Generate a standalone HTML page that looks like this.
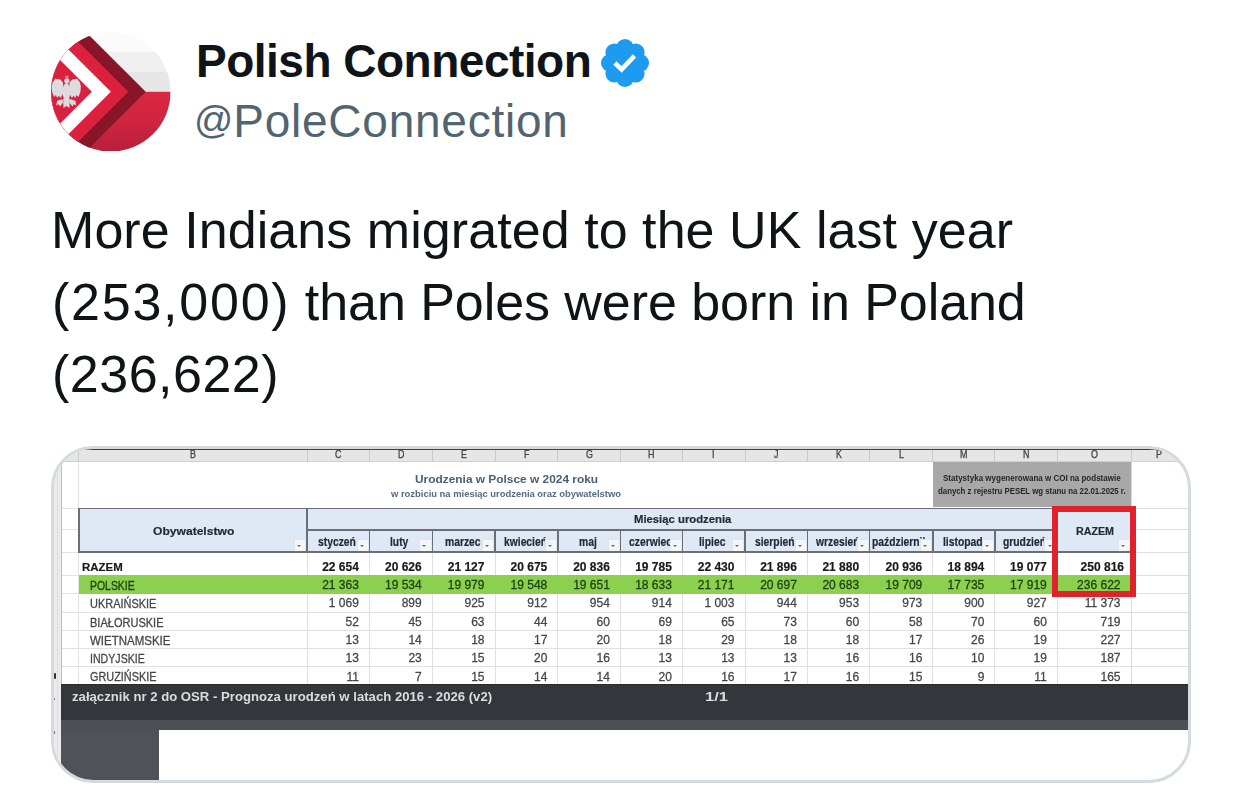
<!DOCTYPE html>
<html><head><meta charset="utf-8">
<style>
html,body{margin:0;padding:0;background:#fff;}
body{width:1242px;height:791px;position:relative;overflow:hidden;font-family:"Liberation Sans",sans-serif;}
.abs{position:absolute;}
#avatar{left:51.1px;top:31.7px;width:119.6px;height:119.6px;filter:blur(0.35px);}
#name{left:196px;top:35px;font-size:46px;font-weight:bold;color:#0f1419;white-space:nowrap;line-height:52px;letter-spacing:-0.5px;}
#badge{left:601px;top:39px;width:48px;height:48px;}
#handle{left:194px;top:95px;font-size:46px;letter-spacing:0.75px;color:#536471;white-space:nowrap;line-height:52px;}
#tweet{left:52px;top:194px;font-size:52px;color:#0f1419;line-height:72px;white-space:nowrap;}
#card{left:51px;top:446px;width:1134px;height:331px;border:3px solid #d3dbdf;border-radius:42px;overflow:hidden;background:#fff;}
#sheet{position:absolute;left:0;top:0;width:1134px;height:331px;filter:blur(0.55px);}
.s{position:absolute;}
.t{position:absolute;white-space:nowrap;line-height:1;}
.mh{text-align:right;color:#1e2730;font-weight:bold;overflow:hidden;}
</style></head>
<body>
<svg id="avatar" class="abs" viewBox="0 0 120 120">
  <defs><clipPath id="cc"><circle cx="60" cy="60" r="60"/></clipPath>
  <linearGradient id="gr" x1="0" y1="0" x2="0" y2="1"><stop offset="0" stop-color="#da2843"/><stop offset="0.5" stop-color="#cf243f"/><stop offset="1" stop-color="#b71f3a"/></linearGradient>
  </defs>
  <g clip-path="url(#cc)">
    <rect x="0" y="0" width="120" height="20" fill="#fbfbfb"/>
    <rect x="0" y="19.8" width="120" height="20.6" fill="#f0f0f0"/>
    <rect x="0" y="40.2" width="120" height="20" fill="#e6e6e6"/>
    <rect x="0" y="60" width="120" height="61" fill="url(#gr)"/>
    <polygon points="95,60 -105,-140 -300,-140 -300,260 -105,260" fill="#881628"/>
    <polygon points="77.5,60 -122.5,-140 -300,-140 -300,260 -122.5,260" fill="#dc213f"/>
    <polygon points="60,60 -140,-140 -300,-140 -300,260 -140,260" fill="#ffffff"/>
    <polygon points="41,60 -159,-140 -300,-140 -300,260 -159,260" fill="#d9203e"/>
    <g fill="#dcdbde">
      <path d="M12.1,50.8 L9.4,47.6 L4.4,47.0 L1.7,50.3 L0.6,54.8 L1.1,60.3 L3.1,65.3 L4.9,63.2 L6.3,66.2 L7.9,64.0 L9.7,66.2 L12.1,61.8 Z"/>
      <path d="M18.5,50.8 L21.2,47.6 L26.2,47.0 L28.9,50.3 L30.0,54.8 L29.5,60.3 L27.5,65.3 L25.7,63.2 L24.3,66.2 L22.7,64.0 L20.9,66.2 L18.5,61.8 Z"/>
      <ellipse cx="15.5" cy="59.8" rx="4" ry="8.6"/>
      <circle cx="15.9" cy="49" r="2.6"/>
      <path d="M12.1,66.8 L18.9,66.8 L18.5,76.3 L15.5,74.2 L12.5,76.3 Z"/>
      <path d="M11.7,67.3 L6.1,69.0 L5.3,73.8 L7.7,72.6 L9.1,74.8 L12.1,70.8 Z"/>
      <path d="M18.9,67.3 L24.5,69.0 L25.3,73.8 L22.9,72.6 L21.5,74.8 L18.5,70.8 Z"/>
    </g>
    <path d="M14.1,46.0 L14.5,43.4 L15.9,44.4 L17.3,43.4 L17.7,46.0 Z" fill="#e3906e"/>
  </g>
</svg>
<div id="name" class="abs">Polish Connection</div>
<svg id="badge" class="abs" viewBox="-24 -24 48 48">
  <g fill="#1d9bf0"><circle r="17.5"/><circle cx="0.00" cy="-15.00" r="9"/><circle cx="10.61" cy="-10.61" r="9"/><circle cx="15.00" cy="-0.00" r="9"/><circle cx="10.61" cy="10.61" r="9"/><circle cx="0.00" cy="15.00" r="9"/><circle cx="-10.61" cy="10.61" r="9"/><circle cx="-15.00" cy="0.00" r="9"/><circle cx="-10.61" cy="-10.61" r="9"/></g>
  <polyline points="-10.1,0 -3.4,6.4 9.5,-7.2" fill="none" stroke="#fff" stroke-width="4.6" stroke-linejoin="miter"/>
</svg>
<div id="handle" class="abs"><span style="font-size:38.7px;vertical-align:4.3px;line-height:1px;letter-spacing:0">@</span>PoleConnection</div>
<div id="tweet" class="abs"><div style="letter-spacing:0.06px;margin-left:-1px">More Indians migrated to the UK last year</div><div><span style="letter-spacing:1.76px">(253,000)</span><span style="letter-spacing:-0.06px"> than Poles were born in Poland</span></div><div style="letter-spacing:0.5px">(236,622)</div></div>
<div id="card" class="abs"><div id="sheet">
<!-- SPREADSHEET -->
<div class="s" style="left:0.00px;top:0.00px;width:1136.00px;height:13.00px;background:#e6e6e6"></div>
<div class="s" style="left:0.00px;top:0.00px;width:1136.00px;height:1.40px;background:#404042"></div>
<div class="s" style="left:0.00px;top:12.00px;width:1136.00px;height:1.20px;background:#d0d0d0"></div>
<div class="s" style="left:0.00px;top:1.00px;width:7.00px;height:331.00px;background:#ebebed"></div>
<div class="s" style="left:2.50px;top:1.00px;width:0.80px;height:331.00px;background:#dedee0"></div>
<div class="s" style="left:6.60px;top:1.00px;width:1.00px;height:331.00px;background:#bdbdc1"></div>
<div class="s" style="left:24.10px;top:1.40px;width:1.10px;height:10.60px;background:#cacaca"></div>
<div class="s" style="left:252.50px;top:1.40px;width:1.10px;height:10.60px;background:#cacaca"></div>
<div class="s" style="left:314.90px;top:1.40px;width:1.10px;height:10.60px;background:#cacaca"></div>
<div class="s" style="left:377.70px;top:1.40px;width:1.10px;height:10.60px;background:#cacaca"></div>
<div class="s" style="left:440.50px;top:1.40px;width:1.10px;height:10.60px;background:#cacaca"></div>
<div class="s" style="left:503.30px;top:1.40px;width:1.10px;height:10.60px;background:#cacaca"></div>
<div class="s" style="left:565.90px;top:1.40px;width:1.10px;height:10.60px;background:#cacaca"></div>
<div class="s" style="left:627.90px;top:1.40px;width:1.10px;height:10.60px;background:#cacaca"></div>
<div class="s" style="left:690.50px;top:1.40px;width:1.10px;height:10.60px;background:#cacaca"></div>
<div class="s" style="left:752.90px;top:1.40px;width:1.10px;height:10.60px;background:#cacaca"></div>
<div class="s" style="left:815.10px;top:1.40px;width:1.10px;height:10.60px;background:#cacaca"></div>
<div class="s" style="left:878.30px;top:1.40px;width:1.10px;height:10.60px;background:#cacaca"></div>
<div class="s" style="left:940.30px;top:1.40px;width:1.10px;height:10.60px;background:#cacaca"></div>
<div class="s" style="left:1002.80px;top:1.40px;width:1.10px;height:10.60px;background:#cacaca"></div>
<div class="s" style="left:1076.70px;top:1.40px;width:1.10px;height:10.60px;background:#cacaca"></div>
<div class="t" style="left:135.83px;top:0.11px;font-size:10.5px;transform:scaleX(0.8500);transform-origin:0 0;color:#444;-webkit-text-stroke:0.3px #444;">B</div>
<div class="t" style="left:280.99px;top:0.11px;font-size:10.5px;transform:scaleX(0.8500);transform-origin:0 0;color:#444;-webkit-text-stroke:0.3px #444;">C</div>
<div class="t" style="left:343.59px;top:0.11px;font-size:10.5px;transform:scaleX(0.8500);transform-origin:0 0;color:#444;-webkit-text-stroke:0.3px #444;">D</div>
<div class="t" style="left:406.63px;top:0.11px;font-size:10.5px;transform:scaleX(0.8500);transform-origin:0 0;color:#444;-webkit-text-stroke:0.3px #444;">E</div>
<div class="t" style="left:469.68px;top:0.11px;font-size:10.5px;transform:scaleX(0.8500);transform-origin:0 0;color:#444;-webkit-text-stroke:0.3px #444;">F</div>
<div class="t" style="left:531.62px;top:0.11px;font-size:10.5px;transform:scaleX(0.8500);transform-origin:0 0;color:#444;-webkit-text-stroke:0.3px #444;">G</div>
<div class="t" style="left:594.19px;top:0.11px;font-size:10.5px;transform:scaleX(0.8500);transform-origin:0 0;color:#444;-webkit-text-stroke:0.3px #444;">H</div>
<div class="t" style="left:658.45px;top:0.11px;font-size:10.5px;transform:scaleX(0.8500);transform-origin:0 0;color:#444;-webkit-text-stroke:0.3px #444;">I</div>
<div class="t" style="left:719.97px;top:0.11px;font-size:10.5px;transform:scaleX(0.8500);transform-origin:0 0;color:#444;-webkit-text-stroke:0.3px #444;">J</div>
<div class="t" style="left:781.53px;top:0.11px;font-size:10.5px;transform:scaleX(0.8500);transform-origin:0 0;color:#444;-webkit-text-stroke:0.3px #444;">K</div>
<div class="t" style="left:844.72px;top:0.11px;font-size:10.5px;transform:scaleX(0.8500);transform-origin:0 0;color:#444;-webkit-text-stroke:0.3px #444;">L</div>
<div class="t" style="left:906.07px;top:0.11px;font-size:10.5px;transform:scaleX(0.8500);transform-origin:0 0;color:#444;-webkit-text-stroke:0.3px #444;">M</div>
<div class="t" style="left:968.84px;top:0.11px;font-size:10.5px;transform:scaleX(0.8500);transform-origin:0 0;color:#444;-webkit-text-stroke:0.3px #444;">N</div>
<div class="t" style="left:1036.77px;top:0.11px;font-size:10.5px;transform:scaleX(0.8500);transform-origin:0 0;color:#444;-webkit-text-stroke:0.3px #444;">O</div>
<div class="t" style="left:1102.00px;top:0.11px;font-size:10.5px;transform:scaleX(0.8500);transform-origin:0 0;color:#444;-webkit-text-stroke:0.3px #444;">P</div>
<div class="s" style="left:7.60px;top:58.90px;width:16.80px;height:0.80px;background:#e2e2e2"></div>
<div class="s" style="left:1077.00px;top:58.80px;width:59.00px;height:1.00px;background:#dedede"></div>
<div class="s" style="left:7.60px;top:80.30px;width:16.80px;height:0.80px;background:#e2e2e2"></div>
<div class="s" style="left:1077.00px;top:80.20px;width:59.00px;height:1.00px;background:#dedede"></div>
<div class="s" style="left:7.60px;top:102.60px;width:16.80px;height:0.80px;background:#e2e2e2"></div>
<div class="s" style="left:1077.00px;top:102.50px;width:59.00px;height:1.00px;background:#dedede"></div>
<div class="s" style="left:7.60px;top:125.80px;width:16.80px;height:0.80px;background:#e2e2e2"></div>
<div class="s" style="left:1077.00px;top:125.70px;width:59.00px;height:1.00px;background:#dedede"></div>
<div class="s" style="left:7.60px;top:144.40px;width:16.80px;height:0.80px;background:#e2e2e2"></div>
<div class="s" style="left:1077.00px;top:144.30px;width:59.00px;height:1.00px;background:#dedede"></div>
<div class="s" style="left:7.60px;top:162.90px;width:16.80px;height:0.80px;background:#e2e2e2"></div>
<div class="s" style="left:1077.00px;top:162.80px;width:59.00px;height:1.00px;background:#dedede"></div>
<div class="s" style="left:7.60px;top:180.60px;width:16.80px;height:0.80px;background:#e2e2e2"></div>
<div class="s" style="left:1077.00px;top:180.50px;width:59.00px;height:1.00px;background:#dedede"></div>
<div class="s" style="left:7.60px;top:199.10px;width:16.80px;height:0.80px;background:#e2e2e2"></div>
<div class="s" style="left:1077.00px;top:199.00px;width:59.00px;height:1.00px;background:#dedede"></div>
<div class="s" style="left:7.60px;top:217.40px;width:16.80px;height:0.80px;background:#e2e2e2"></div>
<div class="s" style="left:1077.00px;top:217.30px;width:59.00px;height:1.00px;background:#dedede"></div>
<div class="s" style="left:7.60px;top:234.60px;width:16.80px;height:0.80px;background:#e2e2e2"></div>
<div class="s" style="left:1077.00px;top:234.50px;width:59.00px;height:1.00px;background:#dedede"></div>
<div class="s" style="left:24.60px;top:125.70px;width:1052.40px;height:1.00px;background:#e0e0e0"></div>
<div class="s" style="left:24.60px;top:144.30px;width:1052.40px;height:1.00px;background:#e0e0e0"></div>
<div class="s" style="left:24.60px;top:162.80px;width:1052.40px;height:1.00px;background:#e0e0e0"></div>
<div class="s" style="left:24.60px;top:180.50px;width:1052.40px;height:1.00px;background:#e0e0e0"></div>
<div class="s" style="left:24.60px;top:199.00px;width:1052.40px;height:1.00px;background:#e0e0e0"></div>
<div class="s" style="left:24.60px;top:217.30px;width:1052.40px;height:1.00px;background:#e0e0e0"></div>
<div class="s" style="left:24.10px;top:103.00px;width:1.00px;height:132.00px;background:#e0e0e0"></div>
<div class="s" style="left:252.50px;top:103.00px;width:1.00px;height:132.00px;background:#e0e0e0"></div>
<div class="s" style="left:314.90px;top:103.00px;width:1.00px;height:132.00px;background:#e0e0e0"></div>
<div class="s" style="left:377.70px;top:103.00px;width:1.00px;height:132.00px;background:#e0e0e0"></div>
<div class="s" style="left:440.50px;top:103.00px;width:1.00px;height:132.00px;background:#e0e0e0"></div>
<div class="s" style="left:503.30px;top:103.00px;width:1.00px;height:132.00px;background:#e0e0e0"></div>
<div class="s" style="left:565.90px;top:103.00px;width:1.00px;height:132.00px;background:#e0e0e0"></div>
<div class="s" style="left:627.90px;top:103.00px;width:1.00px;height:132.00px;background:#e0e0e0"></div>
<div class="s" style="left:690.50px;top:103.00px;width:1.00px;height:132.00px;background:#e0e0e0"></div>
<div class="s" style="left:752.90px;top:103.00px;width:1.00px;height:132.00px;background:#e0e0e0"></div>
<div class="s" style="left:815.10px;top:103.00px;width:1.00px;height:132.00px;background:#e0e0e0"></div>
<div class="s" style="left:878.30px;top:103.00px;width:1.00px;height:132.00px;background:#e0e0e0"></div>
<div class="s" style="left:940.30px;top:103.00px;width:1.00px;height:132.00px;background:#e0e0e0"></div>
<div class="s" style="left:1002.80px;top:103.00px;width:1.00px;height:132.00px;background:#e0e0e0"></div>
<div class="s" style="left:1076.70px;top:103.00px;width:1.00px;height:132.00px;background:#e0e0e0"></div>
<div class="s" style="left:24.10px;top:13.00px;width:1.00px;height:222.00px;background:#e4e4e4"></div>
<div class="s" style="left:1076.60px;top:13.00px;width:1.00px;height:222.00px;background:#dadada"></div>
<div class="s" style="left:878.80px;top:13.00px;width:198.40px;height:45.00px;background:#a8a8a8"></div>
<div class="t" style="left:889.20px;top:25.02px;font-size:8.6px;font-weight:bold;transform:scaleX(0.9323);transform-origin:0 0;color:#262626;">Statystyka wygenerowana w COI na podstawie</div>
<div class="t" style="left:884.00px;top:37.72px;font-size:8.6px;font-weight:bold;transform:scaleX(0.9101);transform-origin:0 0;color:#262626;">danych z rejestru PESEL wg stanu na 22.01.2025 r.</div>
<div class="t" style="left:360.50px;top:24.18px;font-size:11.6px;font-weight:bold;transform:scaleX(1.0259);transform-origin:0 0;color:#46607a;">Urodzenia w Polsce w 2024 roku</div>
<div class="t" style="left:336.55px;top:40.37px;font-size:9.6px;font-weight:bold;transform:scaleX(0.9805);transform-origin:0 0;color:#536b84;">w rozbiciu na miesiąc urodzenia oraz obywatelstwo</div>
<div class="s" style="left:24.60px;top:59.30px;width:978.70px;height:43.70px;background:#dee9f5"></div>
<div class="s" style="left:1003.30px;top:63.00px;width:73.90px;height:40.00px;background:#dee9f5"></div>
<div class="s" style="left:24.60px;top:58.60px;width:978.70px;height:1.40px;background:#6b6f74"></div>
<div class="s" style="left:24.60px;top:102.30px;width:1052.60px;height:1.40px;background:#6b6f74"></div>
<div class="s" style="left:24.00px;top:58.60px;width:1.50px;height:45.10px;background:#6b6f74"></div>
<div class="s" style="left:252.40px;top:58.60px;width:1.50px;height:45.10px;background:#6b6f74"></div>
<div class="s" style="left:253.00px;top:80.30px;width:750.30px;height:1.40px;background:#6b6f74"></div>
<div class="s" style="left:314.70px;top:80.30px;width:1.50px;height:23.40px;background:#6b6f74"></div>
<div class="s" style="left:377.50px;top:80.30px;width:1.50px;height:23.40px;background:#6b6f74"></div>
<div class="s" style="left:440.30px;top:80.30px;width:1.50px;height:23.40px;background:#6b6f74"></div>
<div class="s" style="left:503.10px;top:80.30px;width:1.50px;height:23.40px;background:#6b6f74"></div>
<div class="s" style="left:565.70px;top:80.30px;width:1.50px;height:23.40px;background:#6b6f74"></div>
<div class="s" style="left:627.70px;top:80.30px;width:1.50px;height:23.40px;background:#6b6f74"></div>
<div class="s" style="left:690.30px;top:80.30px;width:1.50px;height:23.40px;background:#6b6f74"></div>
<div class="s" style="left:752.70px;top:80.30px;width:1.50px;height:23.40px;background:#6b6f74"></div>
<div class="s" style="left:814.90px;top:80.30px;width:1.50px;height:23.40px;background:#6b6f74"></div>
<div class="s" style="left:878.10px;top:80.30px;width:1.50px;height:23.40px;background:#6b6f74"></div>
<div class="s" style="left:940.10px;top:80.30px;width:1.50px;height:23.40px;background:#6b6f74"></div>
<div class="s" style="left:1002.60px;top:80.30px;width:1.50px;height:23.40px;background:#6b6f74"></div>
<div class="t" style="left:98.60px;top:76.81px;font-size:11.8px;font-weight:bold;transform:scaleX(1.0245);transform-origin:0 0;color:#1f2833;-webkit-text-stroke:0.2px #1f2833;">Obywatelstwo</div>
<div class="t" style="left:580.00px;top:65.01px;font-size:11.8px;font-weight:bold;transform:scaleX(0.9580);transform-origin:0 0;color:#1f2833;-webkit-text-stroke:0.2px #1f2833;">Miesiąc urodzenia</div>
<div class="t" style="left:264.06px;top:86.64px;font-size:12px;font-weight:bold;transform:scaleX(0.8600);transform-origin:0 0;color:#1f2833;-webkit-text-stroke:0.2px #1f2833;">styczeń</div>
<div class="t" style="left:336.42px;top:86.64px;font-size:12px;font-weight:bold;transform:scaleX(0.8600);transform-origin:0 0;color:#1f2833;-webkit-text-stroke:0.2px #1f2833;">luty</div>
<div class="t" style="left:390.62px;top:86.64px;font-size:12px;font-weight:bold;transform:scaleX(0.8600);transform-origin:0 0;color:#1f2833;-webkit-text-stroke:0.2px #1f2833;">marzec</div>
<div class="t" style="left:449.68px;top:86.64px;font-size:12px;font-weight:bold;transform:scaleX(0.8600);transform-origin:0 0;color:#1f2833;-webkit-text-stroke:0.2px #1f2833;">kwiecień</div>
<div class="t" style="left:525.00px;top:86.64px;font-size:12px;font-weight:bold;transform:scaleX(0.8600);transform-origin:0 0;color:#1f2833;-webkit-text-stroke:0.2px #1f2833;">maj</div>
<div class="t" style="left:574.68px;top:86.64px;font-size:12px;font-weight:bold;transform:scaleX(0.8600);transform-origin:0 0;color:#1f2833;-webkit-text-stroke:0.2px #1f2833;">czerwiec</div>
<div class="t" style="left:645.32px;top:86.64px;font-size:12px;font-weight:bold;transform:scaleX(0.8600);transform-origin:0 0;color:#1f2833;-webkit-text-stroke:0.2px #1f2833;">lipiec</div>
<div class="t" style="left:701.21px;top:86.64px;font-size:12px;font-weight:bold;transform:scaleX(0.8600);transform-origin:0 0;color:#1f2833;-webkit-text-stroke:0.2px #1f2833;">sierpień</div>
<div class="t" style="left:761.52px;top:86.64px;font-size:12px;font-weight:bold;transform:scaleX(0.8600);transform-origin:0 0;color:#1f2833;-webkit-text-stroke:0.2px #1f2833;">wrzesień</div>
<div class="t" style="left:817.88px;top:86.64px;font-size:12px;font-weight:bold;transform:scaleX(0.8600);transform-origin:0 0;color:#1f2833;-webkit-text-stroke:0.2px #1f2833;">październik</div>
<div class="t" style="left:888.81px;top:86.64px;font-size:12px;font-weight:bold;transform:scaleX(0.8600);transform-origin:0 0;color:#1f2833;-webkit-text-stroke:0.2px #1f2833;">listopad</div>
<div class="t" style="left:949.36px;top:86.64px;font-size:12px;font-weight:bold;transform:scaleX(0.8600);transform-origin:0 0;color:#1f2833;-webkit-text-stroke:0.2px #1f2833;">grudzień</div>
<div class="s" style="left:240.20px;top:90.00px;width:11.30px;height:12.30px;background:#f4f6f8;box-shadow:inset 1px 1px 0 #e2e4e6"></div>
<div class="s" style="left:243.30px;top:96.20px;width:0;height:0;border-left:2.4px solid transparent;border-right:2.4px solid transparent;border-top:2.4px solid #666"></div>
<div class="s" style="left:302.50px;top:90.00px;width:11.30px;height:12.30px;background:#f4f6f8;box-shadow:inset 1px 1px 0 #e2e4e6"></div>
<div class="s" style="left:305.60px;top:96.20px;width:0;height:0;border-left:2.4px solid transparent;border-right:2.4px solid transparent;border-top:2.4px solid #666"></div>
<div class="s" style="left:365.30px;top:90.00px;width:11.30px;height:12.30px;background:#f4f6f8;box-shadow:inset 1px 1px 0 #e2e4e6"></div>
<div class="s" style="left:368.40px;top:96.20px;width:0;height:0;border-left:2.4px solid transparent;border-right:2.4px solid transparent;border-top:2.4px solid #666"></div>
<div class="s" style="left:428.10px;top:90.00px;width:11.30px;height:12.30px;background:#f4f6f8;box-shadow:inset 1px 1px 0 #e2e4e6"></div>
<div class="s" style="left:431.20px;top:96.20px;width:0;height:0;border-left:2.4px solid transparent;border-right:2.4px solid transparent;border-top:2.4px solid #666"></div>
<div class="s" style="left:490.90px;top:90.00px;width:11.30px;height:12.30px;background:#f4f6f8;box-shadow:inset 1px 1px 0 #e2e4e6"></div>
<div class="s" style="left:494.00px;top:96.20px;width:0;height:0;border-left:2.4px solid transparent;border-right:2.4px solid transparent;border-top:2.4px solid #666"></div>
<div class="s" style="left:553.50px;top:90.00px;width:11.30px;height:12.30px;background:#f4f6f8;box-shadow:inset 1px 1px 0 #e2e4e6"></div>
<div class="s" style="left:556.60px;top:96.20px;width:0;height:0;border-left:2.4px solid transparent;border-right:2.4px solid transparent;border-top:2.4px solid #666"></div>
<div class="s" style="left:615.50px;top:90.00px;width:11.30px;height:12.30px;background:#f4f6f8;box-shadow:inset 1px 1px 0 #e2e4e6"></div>
<div class="s" style="left:618.60px;top:96.20px;width:0;height:0;border-left:2.4px solid transparent;border-right:2.4px solid transparent;border-top:2.4px solid #666"></div>
<div class="s" style="left:678.10px;top:90.00px;width:11.30px;height:12.30px;background:#f4f6f8;box-shadow:inset 1px 1px 0 #e2e4e6"></div>
<div class="s" style="left:681.20px;top:96.20px;width:0;height:0;border-left:2.4px solid transparent;border-right:2.4px solid transparent;border-top:2.4px solid #666"></div>
<div class="s" style="left:740.50px;top:90.00px;width:11.30px;height:12.30px;background:#f4f6f8;box-shadow:inset 1px 1px 0 #e2e4e6"></div>
<div class="s" style="left:743.60px;top:96.20px;width:0;height:0;border-left:2.4px solid transparent;border-right:2.4px solid transparent;border-top:2.4px solid #666"></div>
<div class="s" style="left:802.70px;top:90.00px;width:11.30px;height:12.30px;background:#f4f6f8;box-shadow:inset 1px 1px 0 #e2e4e6"></div>
<div class="s" style="left:805.80px;top:96.20px;width:0;height:0;border-left:2.4px solid transparent;border-right:2.4px solid transparent;border-top:2.4px solid #666"></div>
<div class="s" style="left:865.90px;top:90.00px;width:11.30px;height:12.30px;background:#f4f6f8;box-shadow:inset 1px 1px 0 #e2e4e6"></div>
<div class="s" style="left:869.00px;top:96.20px;width:0;height:0;border-left:2.4px solid transparent;border-right:2.4px solid transparent;border-top:2.4px solid #666"></div>
<div class="s" style="left:927.90px;top:90.00px;width:11.30px;height:12.30px;background:#f4f6f8;box-shadow:inset 1px 1px 0 #e2e4e6"></div>
<div class="s" style="left:931.00px;top:96.20px;width:0;height:0;border-left:2.4px solid transparent;border-right:2.4px solid transparent;border-top:2.4px solid #666"></div>
<div class="s" style="left:990.40px;top:90.00px;width:11.30px;height:12.30px;background:#f4f6f8;box-shadow:inset 1px 1px 0 #e2e4e6"></div>
<div class="s" style="left:993.50px;top:96.20px;width:0;height:0;border-left:2.4px solid transparent;border-right:2.4px solid transparent;border-top:2.4px solid #666"></div>
<div class="s" style="left:1064.30px;top:90.00px;width:11.30px;height:12.30px;background:#f4f6f8;box-shadow:inset 1px 1px 0 #e2e4e6"></div>
<div class="s" style="left:1067.40px;top:96.20px;width:0;height:0;border-left:2.4px solid transparent;border-right:2.4px solid transparent;border-top:2.4px solid #666"></div>
<div class="t" style="left:1021.60px;top:75.78px;font-size:11.6px;font-weight:bold;transform:scaleX(0.9215);transform-origin:0 0;color:#1f2833;-webkit-text-stroke:0.2px #1f2833;">RAZEM</div>
<div class="s" style="left:24.60px;top:126.20px;width:1052.60px;height:18.60px;background:#8bd04e"></div>
<div class="t" style="left:28.10px;top:112.61px;font-size:11.8px;font-weight:bold;transform:scaleX(0.9702);transform-origin:0 0;color:#1a1a1a;-webkit-text-stroke:0.2px #1a1a1a;">RAZEM</div>
<div class="t" style="left:268.18px;top:111.84px;font-size:12px;font-weight:bold;transform:scaleX(1.0000);transform-origin:0 0;color:#1a1a1a;-webkit-text-stroke:0.2px #1a1a1a;">22 654</div>
<div class="t" style="left:330.98px;top:111.84px;font-size:12px;font-weight:bold;transform:scaleX(1.0000);transform-origin:0 0;color:#1a1a1a;-webkit-text-stroke:0.2px #1a1a1a;">20 626</div>
<div class="t" style="left:393.78px;top:111.84px;font-size:12px;font-weight:bold;transform:scaleX(1.0000);transform-origin:0 0;color:#1a1a1a;-webkit-text-stroke:0.2px #1a1a1a;">21 127</div>
<div class="t" style="left:456.58px;top:111.84px;font-size:12px;font-weight:bold;transform:scaleX(1.0000);transform-origin:0 0;color:#1a1a1a;-webkit-text-stroke:0.2px #1a1a1a;">20 675</div>
<div class="t" style="left:519.18px;top:111.84px;font-size:12px;font-weight:bold;transform:scaleX(1.0000);transform-origin:0 0;color:#1a1a1a;-webkit-text-stroke:0.2px #1a1a1a;">20 836</div>
<div class="t" style="left:581.18px;top:111.84px;font-size:12px;font-weight:bold;transform:scaleX(1.0000);transform-origin:0 0;color:#1a1a1a;-webkit-text-stroke:0.2px #1a1a1a;">19 785</div>
<div class="t" style="left:643.78px;top:111.84px;font-size:12px;font-weight:bold;transform:scaleX(1.0000);transform-origin:0 0;color:#1a1a1a;-webkit-text-stroke:0.2px #1a1a1a;">22 430</div>
<div class="t" style="left:706.18px;top:111.84px;font-size:12px;font-weight:bold;transform:scaleX(1.0000);transform-origin:0 0;color:#1a1a1a;-webkit-text-stroke:0.2px #1a1a1a;">21 896</div>
<div class="t" style="left:768.38px;top:111.84px;font-size:12px;font-weight:bold;transform:scaleX(1.0000);transform-origin:0 0;color:#1a1a1a;-webkit-text-stroke:0.2px #1a1a1a;">21 880</div>
<div class="t" style="left:831.58px;top:111.84px;font-size:12px;font-weight:bold;transform:scaleX(1.0000);transform-origin:0 0;color:#1a1a1a;-webkit-text-stroke:0.2px #1a1a1a;">20 936</div>
<div class="t" style="left:893.58px;top:111.84px;font-size:12px;font-weight:bold;transform:scaleX(1.0000);transform-origin:0 0;color:#1a1a1a;-webkit-text-stroke:0.2px #1a1a1a;">18 894</div>
<div class="t" style="left:956.08px;top:111.84px;font-size:12px;font-weight:bold;transform:scaleX(1.0000);transform-origin:0 0;color:#1a1a1a;-webkit-text-stroke:0.2px #1a1a1a;">19 077</div>
<div class="t" style="left:1026.62px;top:111.84px;font-size:12px;font-weight:bold;transform:scaleX(1.0000);transform-origin:0 0;color:#1a1a1a;-webkit-text-stroke:0.2px #1a1a1a;">250 816</div>
<div class="t" style="left:35.60px;top:130.94px;font-size:12px;transform:scaleX(0.8703);transform-origin:0 0;color:#1f3f0f;-webkit-text-stroke:0.3px #1f3f0f;">POLSKIE</div>
<div class="t" style="left:268.18px;top:130.14px;font-size:12px;transform:scaleX(1.0000);transform-origin:0 0;color:#1f3f0f;-webkit-text-stroke:0.3px #1f3f0f;">21 363</div>
<div class="t" style="left:330.98px;top:130.14px;font-size:12px;transform:scaleX(1.0000);transform-origin:0 0;color:#1f3f0f;-webkit-text-stroke:0.3px #1f3f0f;">19 534</div>
<div class="t" style="left:393.78px;top:130.14px;font-size:12px;transform:scaleX(1.0000);transform-origin:0 0;color:#1f3f0f;-webkit-text-stroke:0.3px #1f3f0f;">19 979</div>
<div class="t" style="left:456.58px;top:130.14px;font-size:12px;transform:scaleX(1.0000);transform-origin:0 0;color:#1f3f0f;-webkit-text-stroke:0.3px #1f3f0f;">19 548</div>
<div class="t" style="left:519.18px;top:130.14px;font-size:12px;transform:scaleX(1.0000);transform-origin:0 0;color:#1f3f0f;-webkit-text-stroke:0.3px #1f3f0f;">19 651</div>
<div class="t" style="left:581.18px;top:130.14px;font-size:12px;transform:scaleX(1.0000);transform-origin:0 0;color:#1f3f0f;-webkit-text-stroke:0.3px #1f3f0f;">18 633</div>
<div class="t" style="left:643.78px;top:130.14px;font-size:12px;transform:scaleX(1.0000);transform-origin:0 0;color:#1f3f0f;-webkit-text-stroke:0.3px #1f3f0f;">21 171</div>
<div class="t" style="left:706.18px;top:130.14px;font-size:12px;transform:scaleX(1.0000);transform-origin:0 0;color:#1f3f0f;-webkit-text-stroke:0.3px #1f3f0f;">20 697</div>
<div class="t" style="left:768.38px;top:130.14px;font-size:12px;transform:scaleX(1.0000);transform-origin:0 0;color:#1f3f0f;-webkit-text-stroke:0.3px #1f3f0f;">20 683</div>
<div class="t" style="left:831.58px;top:130.14px;font-size:12px;transform:scaleX(1.0000);transform-origin:0 0;color:#1f3f0f;-webkit-text-stroke:0.3px #1f3f0f;">19 709</div>
<div class="t" style="left:893.58px;top:130.14px;font-size:12px;transform:scaleX(1.0000);transform-origin:0 0;color:#1f3f0f;-webkit-text-stroke:0.3px #1f3f0f;">17 735</div>
<div class="t" style="left:956.08px;top:130.14px;font-size:12px;transform:scaleX(1.0000);transform-origin:0 0;color:#1f3f0f;-webkit-text-stroke:0.3px #1f3f0f;">17 919</div>
<div class="t" style="left:1023.12px;top:130.14px;font-size:12px;transform:scaleX(1.0000);transform-origin:0 0;color:#1f3f0f;-webkit-text-stroke:0.3px #1f3f0f;">236 622</div>
<div class="t" style="left:35.60px;top:149.24px;font-size:12px;transform:scaleX(0.9138);transform-origin:0 0;color:#464646;-webkit-text-stroke:0.28px #464646;">UKRAIŃSKIE</div>
<div class="t" style="left:274.84px;top:148.44px;font-size:12px;transform:scaleX(1.0000);transform-origin:0 0;color:#464646;-webkit-text-stroke:0.28px #464646;">1 069</div>
<div class="t" style="left:347.66px;top:148.44px;font-size:12px;transform:scaleX(1.0000);transform-origin:0 0;color:#464646;-webkit-text-stroke:0.28px #464646;">899</div>
<div class="t" style="left:410.46px;top:148.44px;font-size:12px;transform:scaleX(1.0000);transform-origin:0 0;color:#464646;-webkit-text-stroke:0.28px #464646;">925</div>
<div class="t" style="left:473.26px;top:148.44px;font-size:12px;transform:scaleX(1.0000);transform-origin:0 0;color:#464646;-webkit-text-stroke:0.28px #464646;">912</div>
<div class="t" style="left:535.86px;top:148.44px;font-size:12px;transform:scaleX(1.0000);transform-origin:0 0;color:#464646;-webkit-text-stroke:0.28px #464646;">954</div>
<div class="t" style="left:597.86px;top:148.44px;font-size:12px;transform:scaleX(1.0000);transform-origin:0 0;color:#464646;-webkit-text-stroke:0.28px #464646;">914</div>
<div class="t" style="left:650.44px;top:148.44px;font-size:12px;transform:scaleX(1.0000);transform-origin:0 0;color:#464646;-webkit-text-stroke:0.28px #464646;">1 003</div>
<div class="t" style="left:722.86px;top:148.44px;font-size:12px;transform:scaleX(1.0000);transform-origin:0 0;color:#464646;-webkit-text-stroke:0.28px #464646;">944</div>
<div class="t" style="left:785.06px;top:148.44px;font-size:12px;transform:scaleX(1.0000);transform-origin:0 0;color:#464646;-webkit-text-stroke:0.28px #464646;">953</div>
<div class="t" style="left:848.26px;top:148.44px;font-size:12px;transform:scaleX(1.0000);transform-origin:0 0;color:#464646;-webkit-text-stroke:0.28px #464646;">973</div>
<div class="t" style="left:910.26px;top:148.44px;font-size:12px;transform:scaleX(1.0000);transform-origin:0 0;color:#464646;-webkit-text-stroke:0.28px #464646;">900</div>
<div class="t" style="left:972.76px;top:148.44px;font-size:12px;transform:scaleX(1.0000);transform-origin:0 0;color:#464646;-webkit-text-stroke:0.28px #464646;">927</div>
<div class="t" style="left:1030.68px;top:148.44px;font-size:12px;transform:scaleX(1.0000);transform-origin:0 0;color:#464646;-webkit-text-stroke:0.28px #464646;">11 373</div>
<div class="t" style="left:35.60px;top:167.54px;font-size:12px;transform:scaleX(0.9183);transform-origin:0 0;color:#464646;-webkit-text-stroke:0.28px #464646;">BIAŁORUSKIE</div>
<div class="t" style="left:291.58px;top:166.74px;font-size:12px;transform:scaleX(1.0000);transform-origin:0 0;color:#464646;-webkit-text-stroke:0.28px #464646;">52</div>
<div class="t" style="left:354.38px;top:166.74px;font-size:12px;transform:scaleX(1.0000);transform-origin:0 0;color:#464646;-webkit-text-stroke:0.28px #464646;">45</div>
<div class="t" style="left:417.18px;top:166.74px;font-size:12px;transform:scaleX(1.0000);transform-origin:0 0;color:#464646;-webkit-text-stroke:0.28px #464646;">63</div>
<div class="t" style="left:479.98px;top:166.74px;font-size:12px;transform:scaleX(1.0000);transform-origin:0 0;color:#464646;-webkit-text-stroke:0.28px #464646;">44</div>
<div class="t" style="left:542.58px;top:166.74px;font-size:12px;transform:scaleX(1.0000);transform-origin:0 0;color:#464646;-webkit-text-stroke:0.28px #464646;">60</div>
<div class="t" style="left:604.58px;top:166.74px;font-size:12px;transform:scaleX(1.0000);transform-origin:0 0;color:#464646;-webkit-text-stroke:0.28px #464646;">69</div>
<div class="t" style="left:667.18px;top:166.74px;font-size:12px;transform:scaleX(1.0000);transform-origin:0 0;color:#464646;-webkit-text-stroke:0.28px #464646;">65</div>
<div class="t" style="left:729.58px;top:166.74px;font-size:12px;transform:scaleX(1.0000);transform-origin:0 0;color:#464646;-webkit-text-stroke:0.28px #464646;">73</div>
<div class="t" style="left:791.78px;top:166.74px;font-size:12px;transform:scaleX(1.0000);transform-origin:0 0;color:#464646;-webkit-text-stroke:0.28px #464646;">60</div>
<div class="t" style="left:854.98px;top:166.74px;font-size:12px;transform:scaleX(1.0000);transform-origin:0 0;color:#464646;-webkit-text-stroke:0.28px #464646;">58</div>
<div class="t" style="left:916.98px;top:166.74px;font-size:12px;transform:scaleX(1.0000);transform-origin:0 0;color:#464646;-webkit-text-stroke:0.28px #464646;">70</div>
<div class="t" style="left:979.48px;top:166.74px;font-size:12px;transform:scaleX(1.0000);transform-origin:0 0;color:#464646;-webkit-text-stroke:0.28px #464646;">60</div>
<div class="t" style="left:1046.46px;top:166.74px;font-size:12px;transform:scaleX(1.0000);transform-origin:0 0;color:#464646;-webkit-text-stroke:0.28px #464646;">719</div>
<div class="t" style="left:35.60px;top:185.84px;font-size:12px;transform:scaleX(0.9571);transform-origin:0 0;color:#464646;-webkit-text-stroke:0.28px #464646;">WIETNAMSKIE</div>
<div class="t" style="left:291.58px;top:185.04px;font-size:12px;transform:scaleX(1.0000);transform-origin:0 0;color:#464646;-webkit-text-stroke:0.28px #464646;">13</div>
<div class="t" style="left:354.38px;top:185.04px;font-size:12px;transform:scaleX(1.0000);transform-origin:0 0;color:#464646;-webkit-text-stroke:0.28px #464646;">14</div>
<div class="t" style="left:417.18px;top:185.04px;font-size:12px;transform:scaleX(1.0000);transform-origin:0 0;color:#464646;-webkit-text-stroke:0.28px #464646;">18</div>
<div class="t" style="left:479.98px;top:185.04px;font-size:12px;transform:scaleX(1.0000);transform-origin:0 0;color:#464646;-webkit-text-stroke:0.28px #464646;">17</div>
<div class="t" style="left:542.58px;top:185.04px;font-size:12px;transform:scaleX(1.0000);transform-origin:0 0;color:#464646;-webkit-text-stroke:0.28px #464646;">20</div>
<div class="t" style="left:604.58px;top:185.04px;font-size:12px;transform:scaleX(1.0000);transform-origin:0 0;color:#464646;-webkit-text-stroke:0.28px #464646;">18</div>
<div class="t" style="left:667.18px;top:185.04px;font-size:12px;transform:scaleX(1.0000);transform-origin:0 0;color:#464646;-webkit-text-stroke:0.28px #464646;">29</div>
<div class="t" style="left:729.58px;top:185.04px;font-size:12px;transform:scaleX(1.0000);transform-origin:0 0;color:#464646;-webkit-text-stroke:0.28px #464646;">18</div>
<div class="t" style="left:791.78px;top:185.04px;font-size:12px;transform:scaleX(1.0000);transform-origin:0 0;color:#464646;-webkit-text-stroke:0.28px #464646;">18</div>
<div class="t" style="left:854.98px;top:185.04px;font-size:12px;transform:scaleX(1.0000);transform-origin:0 0;color:#464646;-webkit-text-stroke:0.28px #464646;">17</div>
<div class="t" style="left:916.98px;top:185.04px;font-size:12px;transform:scaleX(1.0000);transform-origin:0 0;color:#464646;-webkit-text-stroke:0.28px #464646;">26</div>
<div class="t" style="left:979.48px;top:185.04px;font-size:12px;transform:scaleX(1.0000);transform-origin:0 0;color:#464646;-webkit-text-stroke:0.28px #464646;">19</div>
<div class="t" style="left:1046.46px;top:185.04px;font-size:12px;transform:scaleX(1.0000);transform-origin:0 0;color:#464646;-webkit-text-stroke:0.28px #464646;">227</div>
<div class="t" style="left:35.60px;top:204.14px;font-size:12px;transform:scaleX(0.8849);transform-origin:0 0;color:#464646;-webkit-text-stroke:0.28px #464646;">INDYJSKIE</div>
<div class="t" style="left:291.58px;top:203.34px;font-size:12px;transform:scaleX(1.0000);transform-origin:0 0;color:#464646;-webkit-text-stroke:0.28px #464646;">13</div>
<div class="t" style="left:354.38px;top:203.34px;font-size:12px;transform:scaleX(1.0000);transform-origin:0 0;color:#464646;-webkit-text-stroke:0.28px #464646;">23</div>
<div class="t" style="left:417.18px;top:203.34px;font-size:12px;transform:scaleX(1.0000);transform-origin:0 0;color:#464646;-webkit-text-stroke:0.28px #464646;">15</div>
<div class="t" style="left:479.98px;top:203.34px;font-size:12px;transform:scaleX(1.0000);transform-origin:0 0;color:#464646;-webkit-text-stroke:0.28px #464646;">20</div>
<div class="t" style="left:542.58px;top:203.34px;font-size:12px;transform:scaleX(1.0000);transform-origin:0 0;color:#464646;-webkit-text-stroke:0.28px #464646;">16</div>
<div class="t" style="left:604.58px;top:203.34px;font-size:12px;transform:scaleX(1.0000);transform-origin:0 0;color:#464646;-webkit-text-stroke:0.28px #464646;">13</div>
<div class="t" style="left:667.18px;top:203.34px;font-size:12px;transform:scaleX(1.0000);transform-origin:0 0;color:#464646;-webkit-text-stroke:0.28px #464646;">13</div>
<div class="t" style="left:729.58px;top:203.34px;font-size:12px;transform:scaleX(1.0000);transform-origin:0 0;color:#464646;-webkit-text-stroke:0.28px #464646;">13</div>
<div class="t" style="left:791.78px;top:203.34px;font-size:12px;transform:scaleX(1.0000);transform-origin:0 0;color:#464646;-webkit-text-stroke:0.28px #464646;">16</div>
<div class="t" style="left:854.98px;top:203.34px;font-size:12px;transform:scaleX(1.0000);transform-origin:0 0;color:#464646;-webkit-text-stroke:0.28px #464646;">16</div>
<div class="t" style="left:916.98px;top:203.34px;font-size:12px;transform:scaleX(1.0000);transform-origin:0 0;color:#464646;-webkit-text-stroke:0.28px #464646;">10</div>
<div class="t" style="left:979.48px;top:203.34px;font-size:12px;transform:scaleX(1.0000);transform-origin:0 0;color:#464646;-webkit-text-stroke:0.28px #464646;">19</div>
<div class="t" style="left:1046.46px;top:203.34px;font-size:12px;transform:scaleX(1.0000);transform-origin:0 0;color:#464646;-webkit-text-stroke:0.28px #464646;">187</div>
<div class="t" style="left:35.60px;top:222.44px;font-size:12px;transform:scaleX(0.9056);transform-origin:0 0;color:#464646;-webkit-text-stroke:0.28px #464646;">GRUZIŃSKIE</div>
<div class="t" style="left:292.42px;top:221.64px;font-size:12px;transform:scaleX(1.0000);transform-origin:0 0;color:#464646;-webkit-text-stroke:0.28px #464646;">11</div>
<div class="t" style="left:361.04px;top:221.64px;font-size:12px;transform:scaleX(1.0000);transform-origin:0 0;color:#464646;-webkit-text-stroke:0.28px #464646;">7</div>
<div class="t" style="left:417.18px;top:221.64px;font-size:12px;transform:scaleX(1.0000);transform-origin:0 0;color:#464646;-webkit-text-stroke:0.28px #464646;">15</div>
<div class="t" style="left:479.98px;top:221.64px;font-size:12px;transform:scaleX(1.0000);transform-origin:0 0;color:#464646;-webkit-text-stroke:0.28px #464646;">14</div>
<div class="t" style="left:542.58px;top:221.64px;font-size:12px;transform:scaleX(1.0000);transform-origin:0 0;color:#464646;-webkit-text-stroke:0.28px #464646;">14</div>
<div class="t" style="left:604.58px;top:221.64px;font-size:12px;transform:scaleX(1.0000);transform-origin:0 0;color:#464646;-webkit-text-stroke:0.28px #464646;">20</div>
<div class="t" style="left:667.18px;top:221.64px;font-size:12px;transform:scaleX(1.0000);transform-origin:0 0;color:#464646;-webkit-text-stroke:0.28px #464646;">16</div>
<div class="t" style="left:729.58px;top:221.64px;font-size:12px;transform:scaleX(1.0000);transform-origin:0 0;color:#464646;-webkit-text-stroke:0.28px #464646;">17</div>
<div class="t" style="left:791.78px;top:221.64px;font-size:12px;transform:scaleX(1.0000);transform-origin:0 0;color:#464646;-webkit-text-stroke:0.28px #464646;">16</div>
<div class="t" style="left:854.98px;top:221.64px;font-size:12px;transform:scaleX(1.0000);transform-origin:0 0;color:#464646;-webkit-text-stroke:0.28px #464646;">15</div>
<div class="t" style="left:923.64px;top:221.64px;font-size:12px;transform:scaleX(1.0000);transform-origin:0 0;color:#464646;-webkit-text-stroke:0.28px #464646;">9</div>
<div class="t" style="left:980.32px;top:221.64px;font-size:12px;transform:scaleX(1.0000);transform-origin:0 0;color:#464646;-webkit-text-stroke:0.28px #464646;">11</div>
<div class="t" style="left:1046.46px;top:221.64px;font-size:12px;transform:scaleX(1.0000);transform-origin:0 0;color:#464646;-webkit-text-stroke:0.28px #464646;">165</div>
<div class="s" style="left:0.20px;top:223.50px;width:1.60px;height:6.00px;background:#333;border-radius:1px"></div>
<div class="s" style="left:0.40px;top:249.00px;width:1.00px;height:2.00px;background:#888"></div>
<div class="s" style="left:0.40px;top:282.00px;width:1.00px;height:2.50px;background:#777"></div>
<div class="s" style="left:998.40px;top:57.40px;width:83.50px;height:90.40px;border:6.2px solid #e1212b;box-sizing:border-box"></div>
<div class="s" style="left:7.00px;top:235.00px;width:1129.00px;height:36.30px;background:#33363a"></div>
<div class="s" style="left:7.00px;top:235.00px;width:1129.00px;height:1.20px;background:#2a2b2e"></div>
<div class="s" style="left:7.00px;top:271.30px;width:1129.00px;height:10.10px;background:#4c4f53"></div>
<div class="s" style="left:7.00px;top:281.40px;width:98.20px;height:50.60px;background:#4f5256"></div>
<div class="t" style="left:17.60px;top:241.84px;font-size:12px;font-weight:bold;transform:scaleX(1.0956);transform-origin:0 0;color:#dcdcdc;">załącznik nr 2 do OSR - Prognoza urodzeń w latach 2016 - 2026 (v2)</div>
<div class="t" style="left:651.00px;top:241.84px;font-size:12px;font-weight:bold;transform:scaleX(1.3789);transform-origin:0 0;color:#dcdcdc;">1/1</div>
<!-- /SPREADSHEET -->
</div></div>
</body></html>
